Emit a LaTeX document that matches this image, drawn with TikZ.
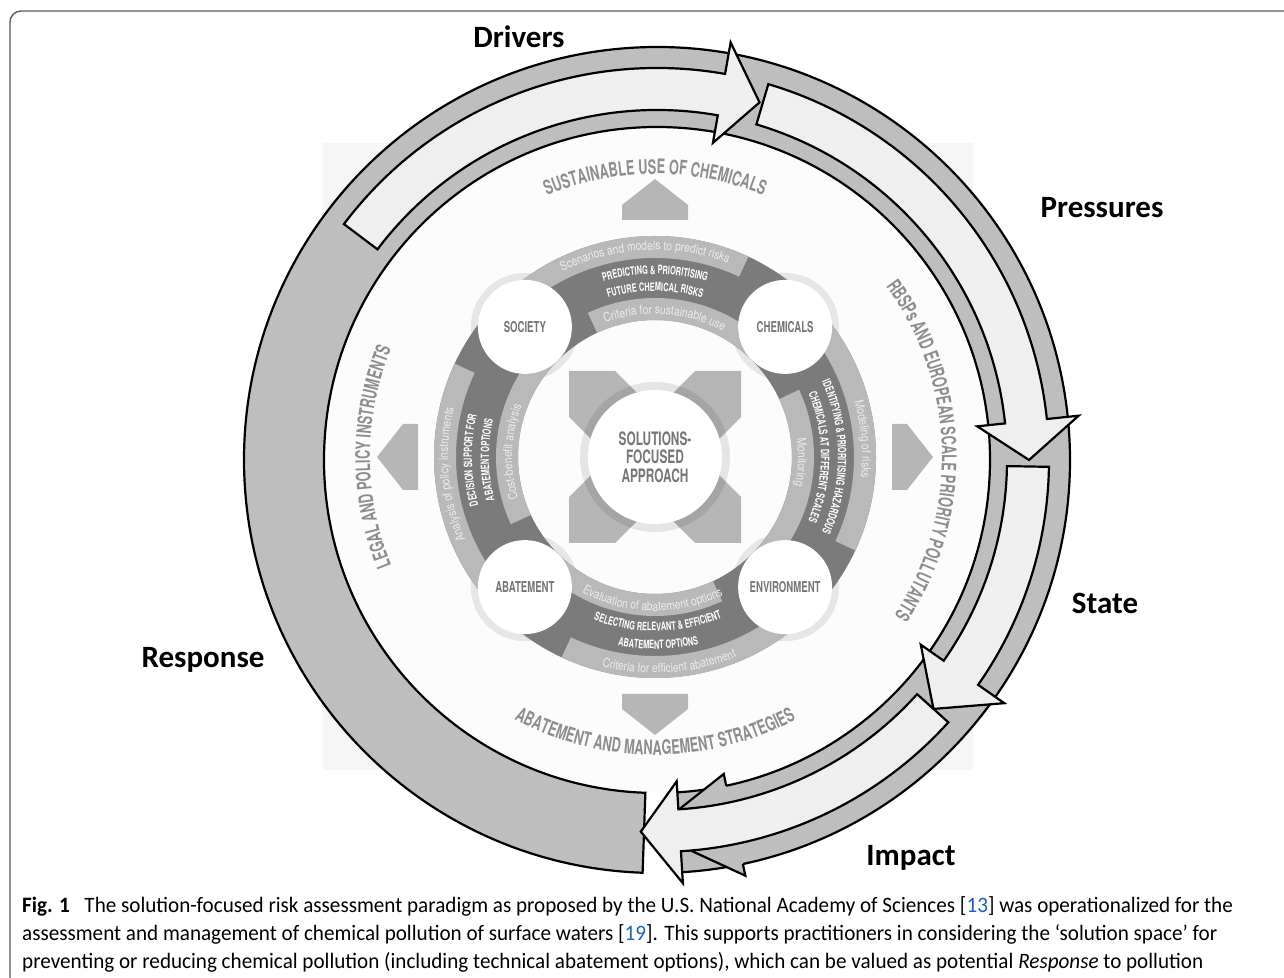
\documentclass[tikz,border=0pt]{standalone}
\usepackage{fontspec}
\setmainfont{Carlito}
\newfontfamily\capfont[FakeStretch=0.96]{Carlito}
\newfontfamily\cnd[FakeStretch=0.64]{TeX Gyre Heros}
\newfontfamily\cndreg[FakeStretch=0.82]{TeX Gyre Heros}
\usetikzlibrary{decorations.text}
\definecolor{ringgray}{HTML}{BEBEBE}
\definecolor{lightfill}{HTML}{EFEFEF}
\definecolor{panelgray}{HTML}{F6F6F6}
\definecolor{darkband}{HTML}{7B7B7B}
\definecolor{midband}{HTML}{B9B9B9}
\definecolor{xgray}{HTML}{B6B6B6}
\definecolor{satring}{HTML}{E6E6E6}
\definecolor{labgray}{HTML}{8E8E8E}
\definecolor{satlab}{HTML}{767676}
\definecolor{bandtext}{HTML}{ECECEC}
\definecolor{framegray}{HTML}{5A5A5A}
\definecolor{linkblue}{HTML}{2060C0}
\tikzset{
  outl/.style={draw=black, line width=2.2pt, line join=miter},
  dpsir/.style={font=\bfseries\fontsize{31}{31}\selectfont, inner sep=0pt, anchor=base},
  satlabel/.style={font=\cnd\bfseries\fontsize{15}{15}\selectfont, text=satlab, inner sep=0pt},
  capline/.style={font=\capfont\fontsize{22}{22}\selectfont, anchor=base west, inner sep=0pt},
}
\newcommand\lightarr[3]{%
  \draw[outl, fill=lightfill] (#1:392) arc[start angle=#1, end angle=#2, radius=392]
    -- (#2:424) -- (#3:372) -- (#2:322) -- (#2:350)
    arc[start angle=#2, end angle=#1, radius=350] -- cycle;}
\newcommand\bandsector[5]{%
  \fill[#1] (#4:#3) arc[start angle=#4, end angle=#5, radius=#3] -- (#5:#2)
    arc[start angle=#5, end angle=#4, radius=#2] -- cycle;}
\newcommand\arctext[5]{%
  \path[decorate, decoration={text along path, text align=center, text={|#4|#5}}]
    (#2:#1) arc[start angle=#2, end angle=#3, radius=#1];}
\def\lblfmt{\color{labgray}\cnd\bfseries\fontsize{20}{20}\selectfont}
\def\lightfmt{\color{bandtext}\cndreg\fontsize{12.5}{12.5}\selectfont}
\def\darkfmt{\color{white}\cnd\bfseries\fontsize{11.5}{11.5}\selectfont}
\begin{document}
\begin{tikzpicture}[x=1pt,y=1pt]
\useasboundingbox (0,0) rectangle (1284,977);
\clip (0,0) rectangle (1284,977);
\fill[white] (0,0) rectangle (1284,977);
\draw[framegray, line width=1.4pt, rounded corners=11pt] (10,-30) rectangle (1320,966);
\fill[panelgray] (323,207) rectangle (973,834);
% ---------------- DPSIR ring ----------------
\begin{scope}[shift={(657,517)}]
  \fill[white!70!panelgray] (0,0) circle[radius=333];
  \fill[ringgray] (-86.5:413) arc[start angle=-86.5, end angle=268, radius=413]
     -- (268:333) arc[start angle=268, end angle=-86.5, radius=333] -- cycle;
  \draw[outl] (-86.5:413) arc[start angle=-86.5, end angle=268, radius=413]
     -- (268:333) arc[start angle=268, end angle=-86.5, radius=333];
  \fill[ringgray] (-78:413) -- (-78:425) -- (-91:372) -- (-78:321) -- (-78:333) -- cycle;
  \draw[outl] (-78:413) -- (-78:425) -- (-91:372) -- (-78:321) -- (-78:333);
  \lightarr{143}{80}{74}
  \lightarr{73.5}{6}{0}
  \lightarr{-1}{-35}{-42}
  \lightarr{-42}{-86.5}{-92.5}
\end{scope}
% ---------------- inner diagram ----------------
\begin{scope}[shift={(655,520)}]
  \foreach \a in {0,90,180,270}
    \fill[xgray, rotate=\a] (237,-33) -- (252,-33) -- (278,0) -- (252,33) -- (237,33) -- cycle;
  \fill[xgray] (-86,86) -- (-40,86) -- (0,46) -- (40,86) -- (86,86) -- (86,40) -- (46,0)
    -- (86,-40) -- (86,-86) -- (40,-86) -- (0,-46) -- (-40,-86) -- (-86,-86) -- (-86,-40)
    -- (-46,0) -- (-86,40) -- cycle;
  \fill[black, opacity=0.09] (0,0) circle[radius=75];
  \fill[white] (0,0) circle[radius=67];
  \node[font=\cnd\bfseries\fontsize{18.5}{18.5}\selectfont, text=satlab, align=center, inner sep=0pt] (sfa) at (0,0) {SOLUTIONS-\\FOCUSED\\APPROACH};
  \foreach \a in {135,45,-45,-135} \fill[satring] (\a:184) circle[radius=54];
  % top arc
  \bandsector{darkband}{137}{221}{135}{45}
  \bandsector{midband}{199}{221}{135}{65}
  \bandsector{midband}{137}{159}{115}{45}
  % right arc
  \bandsector{darkband}{137}{221}{45}{-45}
  \bandsector{midband}{199}{221}{45}{-25}
  \bandsector{midband}{137}{159}{25}{-45}
  % bottom arc
  \bandsector{darkband}{137}{221}{-45}{-135}
  \bandsector{midband}{199}{221}{-45}{-115}
  \bandsector{midband}{137}{159}{-65}{-135}
  % left arc
  \bandsector{darkband}{137}{221}{225}{135}
  \bandsector{midband}{199}{221}{225}{155}
  \bandsector{midband}{137}{159}{205}{135}
  \foreach \a/\n/\t in {135/soc/SOCIETY, 45/chem/CHEMICALS, -45/env/ENVIRONMENT, -135/abat/ABATEMENT} {
    \fill[white] (\a:184) circle[radius=47];
    \node[satlabel] (\n) at (\a:184) {\t};
  }
  % outer labels
  \arctext{283}{130}{50}{\lblfmt}{SUSTAINABLE USE OF CHEMICALS}
  \arctext{298}{230}{310}{\lblfmt}{ABATEMENT AND MANAGEMENT STRATEGIES}
  \arctext{285}{220}{140}{\lblfmt}{LEGAL AND POLICY INSTRUMENTS}
  \arctext{287}{44}{-41}{\lblfmt}{RBSPs AND EUROPEAN SCALE PRIORITY POLLUTANTS}
  % top arc texts
  \arctext{207}{133}{53}{\lightfmt}{Scenarios and models to predict risks}
  \arctext{183}{130}{50}{\darkfmt}{PREDICTING {\&} PRIORITISING}
  \arctext{166}{130}{50}{\darkfmt}{FUTURE CHEMICAL RISKS}
  \arctext{143}{126}{46}{\lightfmt}{Criteria for sustainable use}
  % right arc texts
  \arctext{207}{45}{-35}{\lightfmt}{Modeling of risks}
  \arctext{183}{40}{-40}{\darkfmt}{IDENTIFYING {\&} PRIORITISING HAZARDOUS}
  \arctext{166}{40}{-40}{\darkfmt}{CHEMICALS AT DIFFERENT SCALES}
  \arctext{143}{38}{-42}{\lightfmt}{Monitoring}
  % bottom arc texts
  \arctext{154}{-131}{-51}{\lightfmt}{Evaluation of abatement options}
  \arctext{174}{-129}{-49}{\darkfmt}{SELECTING RELEVANT {\&} EFFICIENT}
  \arctext{192}{-129}{-49}{\darkfmt}{ABATEMENT OPTIONS}
  \arctext{216}{-126}{-46}{\lightfmt}{Criteria for efficient abatement}
  % left arc texts
  \arctext{207}{225}{145}{\lightfmt}{Analysis of policy instruments}
  \arctext{183}{221}{141}{\darkfmt}{DECISION SUPPORT FOR}
  \arctext{166}{221}{141}{\darkfmt}{ABATEMENT OPTIONS}
  \arctext{143}{218}{138}{\lightfmt}{Cost-benefit analysis}
\end{scope}
% ---------------- DPSIR labels ----------------
\node[dpsir] (drivers) at (519,929) {Drivers};
\node[dpsir] (pressures) at (1102,759) {Pressures};
\node[dpsir] (state) at (1105,363) {State};
\node[dpsir] (impact) at (911,112) {Impact};
\node[dpsir] (response) at (203,309) {Response};
% ---------------- caption ----------------
\node[capline] (cap1) at (22,65) {\textbf{Fig. 1}\hspace{0.45em} The solution-focused risk assessment paradigm as proposed by the U.S. National Academy of Sciences [\textcolor{linkblue}{13}] was operationalized for the};
\node[capline] (cap2) at (22,37) {assessment and management of chemical pollution of surface waters [\textcolor{linkblue}{19}]. This supports practitioners in considering the ‘solution space’ for};
\node[capline] (cap3) at (22,9) {preventing or reducing chemical pollution (including technical abatement options), which can be valued as potential \textit{Response} to pollution};
\end{tikzpicture}
\end{document}
